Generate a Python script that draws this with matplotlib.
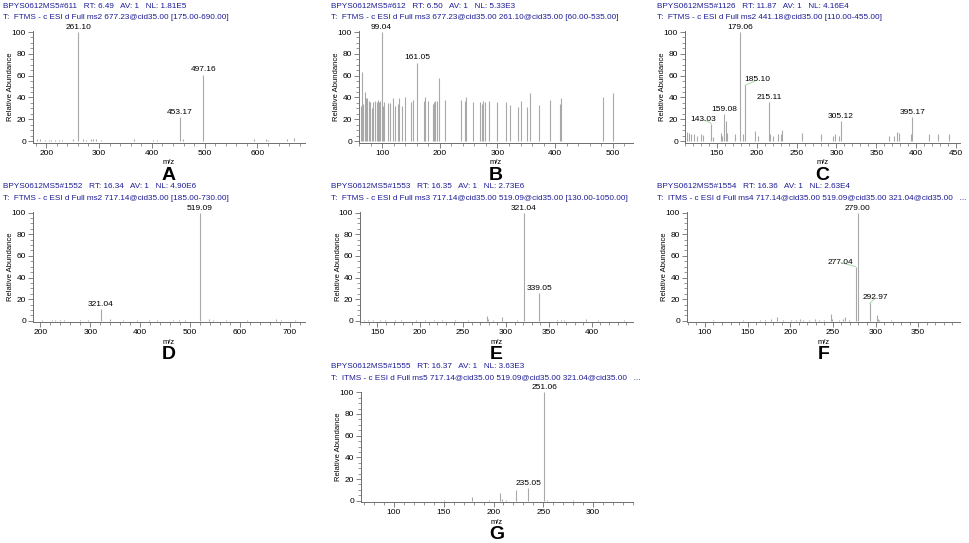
import matplotlib
matplotlib.use("Agg")
import matplotlib.pyplot as plt
from matplotlib.ticker import MultipleLocator

plt.rcParams['font.family'] = ['Liberation Sans', 'DejaVu Sans']

W, H = 969, 543

# ---- spectrum A ----
head_a = ["BPYS0612MS5#611   RT: 6.49   AV: 1   NL: 1.81E5",
          "T:  FTMS - c ESI d Full ms2 677.23@cid35.00 [175.00-690.00]"]
mz_a = [182.1, 188.9, 198.2, 205.6, 210.0, 216.2, 224.2, 230.5, 250.9, 261.10,
        269.5, 275.7, 285.0, 289.4, 294.3, 303.0, 366.9, 402.2, 410.3, 453.17,
        458.7, 497.16, 593.2, 616.8, 619.9, 656.5, 669.5]
ab_a = [1.5, 2, 1, 1, 1, 1, 1, 1, 2, 100,
        2, 1, 2, 2, 2, 1, 1.5, 1, 1, 22,
        1.5, 61, 2, 2, 1, 2, 3]
lab_a = [261.10, 453.17, 497.16]

# ---- spectrum B ----
head_b = ["BPYS0612MS5#612   RT: 6.50   AV: 1   NL: 5.33E3",
          "T:  FTMS - c ESI d Full ms3 677.23@cid35.00 261.10@cid35.00 [60.00-535.00]"]
mz_b = [63.5, 65.8, 67.6, 69.9, 72.2, 74.5, 76.8, 79.7, 82.0, 84.3,
        87.2, 90.7, 93.0, 95.3, 97.1, 99.04, 101.7, 104.0, 110.4, 114.4,
        119.0, 122.5, 127.7, 130.0, 134.6, 140.4, 150.2, 153.1, 161.05, 172.8,
        175.1, 179.7, 187.8, 190.1, 192.5, 194.8, 198.2, 209.8, 236.4, 243.3,
        245.7, 257.2, 269.9, 273.4, 275.7, 279.2, 285.0, 300.0, 315.7, 321.5,
        336.5, 341.7, 350.9, 356.1, 371.8, 390.8, 408.8, 410.5, 483.3, 499.5]
ab_b = [32, 63, 33.5, 45, 39, 39, 37, 36, 30, 36,
        37, 36, 38, 36, 37, 100, 32, 36, 35, 35,
        39, 32, 33.5, 39, 32, 40.5, 36, 38, 72, 37,
        40.5, 37, 34, 36, 37, 37, 58, 37.5, 37.5, 37,
        40.5, 36, 36, 34, 37, 36, 36.5, 36, 36, 33,
        31.4, 37, 31.4, 43.6, 33, 38, 34, 39, 40.5, 43.6]
lab_b = [99.04, 161.05]

# ---- spectrum C ----
head_c = ["BPYS0612MS5#1126   RT: 11.87   AV: 1   NL: 4.16E4",
          "T:  FTMS - c ESI d Full ms2 441.18@cid35.00 [110.00-455.00]"]
mz_c = [113.0, 115.5, 118.0, 121.0, 125.0, 130.0, 133.0, 143.03, 145.0, 155.0,
        157.0, 159.08, 161.0, 162.5, 173.0, 179.06, 183.0, 185.10, 198.0, 201.0,
        215.11, 217.0, 220.0, 227.0, 230.0, 232.0, 257.0, 280.0, 296.0, 298.0,
        303.0, 305.12, 366.5, 372.0, 376.0, 379.0, 394.0, 395.17, 416.5, 428.0,
        441.0]
ab_c = [8, 7, 6, 6, 5, 6, 5.5, 16, 4, 7,
        5, 25, 18, 7, 6, 100, 6, 51, 9, 5,
        36, 6, 5, 6, 6, 10, 7, 6, 5, 6,
        5, 18, 5, 5, 8, 7, 6, 22, 6, 6,
        6]
lab_c = [143.03, 159.08, 179.06, 185.10, 215.11, 305.12, 395.17]

# ---- spectrum D ----
head_d = ["BPYS0612MS5#1552   RT: 16.34   AV: 1   NL: 4.90E6",
          "T:  FTMS - c ESI d Full ms2 717.14@cid35.00 [185.00-730.00]"]
mz_d = [203.3, 223.3, 229.9, 238.5, 246.4, 278.3, 296.2, 321.04, 339.3, 365.9,
        393.7, 417.6, 433.6, 465.4, 477.3, 488.6, 519.09, 537.1, 545.1, 571.6,
        614.7, 671.2, 681.1, 710.9]
ab_d = [1, 1, 1, 1, 1, 1, 1, 11, 1.5, 1,
        1, 1, 1, 1, 1, 1, 100, 2, 1, 1,
        1, 1.5, 1, 1]
lab_d = [321.04, 519.09]

# ---- spectrum E ----
head_e = ["BPYS0612MS5#1553   RT: 16.35   AV: 1   NL: 2.73E6",
          "T:  FTMS - c ESI d Full ms3 717.14@cid35.00 519.09@cid35.00 [130.00-1050.00]"]
mz_e = [130.2, 134.1, 139.9, 144.6, 153.5, 159.4, 170.5, 177.2, 194.9, 206.0,
        216.6, 225.7, 240.3, 256.0, 277.6, 278.8, 285.5, 295.3, 312.9, 321.04,
        339.05, 359.3, 364.0, 368.0, 393.8, 407.6, 437.2]
ab_e = [1, 1, 1, 1, 1, 1, 1, 1, 1, 1,
        1, 1, 1, 1, 4, 1.5, 1, 3, 1, 100,
        26, 1, 1, 1, 1.5, 1, 1]
lab_e = [321.04, 339.05]

# ---- spectrum F ----
head_f = ["BPYS0612MS5#1554   RT: 16.36   AV: 1   NL: 2.63E4",
          "T:  ITMS - c ESI d Full ms4 717.14@cid35.00 519.09@cid35.00 321.04@cid35.00   ..."]
mz_f = [110.0, 145.0, 164.5, 170.5, 178.0, 184.0, 191.5, 201.0, 207.0, 211.0,
        215.0, 222.5, 229.5, 234.0, 240.0, 248.0, 249.0, 257.5, 262.0, 264.0,
        268.5, 277.04, 279.00, 292.97, 301.5, 302.7, 304.0, 318.0]
ab_f = [1, 1, 1, 1, 1.5, 3, 1, 1, 1, 1.5,
        1, 1, 1.5, 1, 1, 6, 2, 1, 2, 3,
        1, 50, 100, 16, 5, 2, 1, 1]
lab_f = [277.04, 279.00, 292.97]

# ---- spectrum G ----
head_g = ["BPYS0612MS5#1555   RT: 16.37   AV: 1   NL: 3.63E3",
          "T:  ITMS - c ESI d Full ms5 717.14@cid35.00 519.09@cid35.00 321.04@cid35.00   ..."]
mz_g = [150.7, 178.3, 195.0, 206.7, 208.3, 212.7, 222.7, 235.05, 251.06, 253.3, 279.3]
ab_g = [0.5, 3, 1, 7, 2, 1, 10, 12, 100, 1, 1]
lab_g = [235.05, 251.06]

HEAD_COL = '#1c1c96'
BAR_COL = '#a8a8a8'
AX_COL = '#6e6e6e'
LEAD_COL = '#9ad49a'

fig = plt.figure(figsize=(W / 100, H / 100), dpi=100)

# label offsets in points (dx, dy) for labels that are moved away from their peak
shift = {143.03: (-6, 0.5), 185.10: (9, 1.5), 277.04: (-11, 0.5), 292.97: (4.5, 1.5)}


def spectrum(x0, x1, y100, y0, xlim, major, minor, mz, ab, labs, head, hx, letter):
    ppu = (y0 - y100) / 100.0
    ytop = y100 - 0.5 * ppu
    ybot = y0 + 1.5 * ppu
    ax = fig.add_axes([x0 / W, 1 - ybot / H, (x1 - x0) / W, (ybot - ytop) / H])
    ax.set_xlim(*xlim)
    ax.set_ylim(-1.5, 100.5)
    ax.vlines(mz, 0, ab, colors=BAR_COL, lw=0.8)
    for m in labs:
        h = ab[mz.index(m)]
        dx, dy = shift.get(m, (0, 0.8))
        if m in shift:
            ax.annotate(f"{m:.2f}", xy=(m, h), xytext=(dx, dy), textcoords='offset points',
                        ha='center', va='bottom', fontsize=6, annotation_clip=False,
                        arrowprops=dict(arrowstyle='-', color=LEAD_COL, lw=0.6,
                                        shrinkA=0, shrinkB=0))
        else:
            ax.annotate(f"{m:.2f}", xy=(m, h), xytext=(dx, dy), textcoords='offset points',
                        ha='center', va='bottom', fontsize=6, annotation_clip=False)
    for s in ['top', 'right']:
        ax.spines[s].set_visible(False)
    for s in ['left', 'bottom']:
        ax.spines[s].set_color(AX_COL)
        ax.spines[s].set_linewidth(0.7)
    ax.xaxis.set_major_locator(MultipleLocator(major))
    ax.xaxis.set_minor_locator(MultipleLocator(minor))
    ax.yaxis.set_major_locator(MultipleLocator(20))
    ax.yaxis.set_minor_locator(MultipleLocator(5))
    ax.tick_params(which='major', length=3.5, width=0.6, color=AX_COL, labelsize=6, pad=1.5)
    ax.tick_params(which='minor', length=2, width=0.5, color=AX_COL)
    ax.set_facecolor('none')
    cx = (x0 + x1) / 2
    fig.text(hx / W, 1 - (y100 - 26) / H, head[0], fontsize=5.9, color=HEAD_COL, va='center')
    fig.text(hx / W, 1 - (y100 - 14.5) / H, head[1], fontsize=5.9, color=HEAD_COL, va='center')
    fig.text(cx / W, 1 - (y0 + 22) / H, "m/z", fontsize=5.5, ha='center', va='center')
    fig.text(cx / W, 1 - (y0 + 34) / H, letter, fontsize=14, fontweight='bold',
             ha='center', va='center')
    fig.text((x0 - 22) / W, 1 - (y100 + y0) / 2 / H, "Relative Abundance", fontsize=5.5,
             rotation=90, ha='center', va='center')
    return ax


spectrum(33, 305, 32, 141, (175, 690), 100, 20, mz_a, ab_a, lab_a, head_a, 3, 'A')
spectrum(359, 633, 32, 141, (60, 535), 100, 20, mz_b, ab_b, lab_b, head_b, 331, 'B')
spectrum(685, 960, 32, 141, (110, 455), 50, 10, mz_c, ab_c, lab_c, head_c, 657, 'C')
spectrum(33, 305, 212.7, 320.7, (185, 730), 100, 20, mz_d, ab_d, lab_d, head_d, 3, 'D')
spectrum(360, 633, 212.7, 320.7, (130, 448), 50, 10, mz_e, ab_e, lab_e, head_e, 331, 'E')
spectrum(687, 960, 212.7, 320.7, (79, 399), 50, 10, mz_f, ab_f, lab_f, head_f, 657, 'F')
spectrum(361, 633, 392.3, 500.7, (67, 340), 50, 10, mz_g, ab_g, lab_g, head_g, 331, 'G')

fig.savefig("out.png", dpi=100)
